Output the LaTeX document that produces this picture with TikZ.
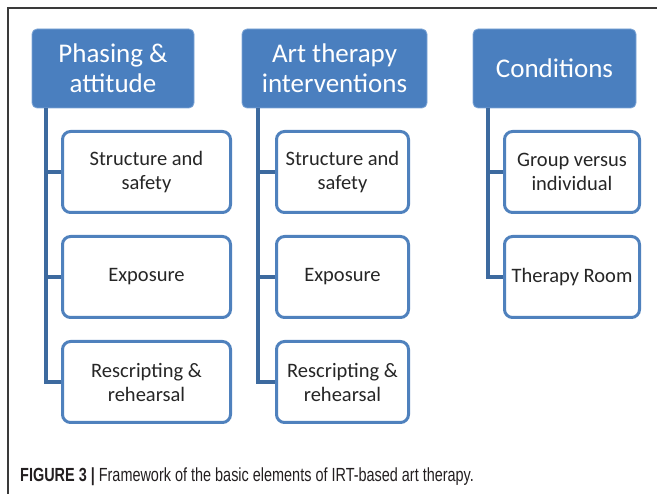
\documentclass[tikz,border=0pt]{standalone}
\usepackage{fontspec}
\setmainfont{Carlito}
\newfontfamily\capfont[FakeStretch=0.76]{Liberation Sans}
\definecolor{hdrblue}{HTML}{4A7FBF}
\definecolor{hdredge}{HTML}{7FA6D6}
\definecolor{boxblue}{HTML}{4F81BD}
\definecolor{linkblue}{HTML}{3D6A9F}
\definecolor{txtgray}{HTML}{262626}
\definecolor{capgray}{HTML}{231F20}
\definecolor{framegray}{HTML}{3A3A3A}
\tikzset{
  hdr/.style={fill=hdrblue, draw=hdredge, line width=0.8pt, rounded corners=5pt,
    text=white, align=center, inner sep=0pt,
    font=\fontsize{27}{30}\selectfont, minimum height=79pt},
  child/.style={fill=white, draw=boxblue, line width=3pt, rounded corners=8pt,
    text=txtgray, align=center, inner sep=0pt,
    font=\fontsize{20.5}{24}\selectfont, minimum height=81pt},
  link/.style={draw=linkblue, line width=4pt},
  framel/.style={draw=framegray, line width=1.5pt}
}
\begin{document}
\begin{tikzpicture}[x=1pt,y=-1pt]
\useasboundingbox (0,0) rectangle (657,494);
\draw[framel] (8,494) -- (8,8) -- (657,8);

% headers
\node[hdr, minimum width=162pt] (h1) at (113,68.5) {Phasing \&\\attitude};
\node[hdr, minimum width=185pt] (h2) at (334.5,68.5) {Art therapy\\interventions};
\node[hdr, minimum width=163pt] (h3) at (554.5,68.5) {Conditions};

% spine coordinates
\coordinate (s1) at (46,108.5);
\coordinate (s2) at (258,108.5);
\coordinate (s3) at (488,108.5);

% column 1
\node[child, minimum width=168pt] (a1) at (146.5,172) {Structure and\\safety};
\node[child, minimum width=168pt] (a2) at (146.5,277) {Exposure};
\node[child, minimum width=168pt] (a3) at (146.5,382) {Rescripting \&\\rehearsal};
% column 2
\node[child, minimum width=132pt] (b1) at (342.5,172) {Structure and\\safety};
\node[child, minimum width=132pt] (b2) at (342.5,277) {Exposure};
\node[child, minimum width=132pt] (b3) at (342.5,382) {Rescripting \&\\rehearsal};
% column 3
\node[child, minimum width=135pt] (c1) at (572,172) {Group versus\\individual};
\node[child, minimum width=135pt] (c2) at (572,277) {Therapy Room};

% connectors
\draw[link] (s1) -- (s1 |- a3.west) -- (a3.west);
\draw[link] (s1 |- a1.west) -- (a1.west);
\draw[link] (s1 |- a2.west) -- (a2.west);
\draw[link] (s2) -- (s2 |- b3.west) -- (b3.west);
\draw[link] (s2 |- b1.west) -- (b1.west);
\draw[link] (s2 |- b2.west) -- (b2.west);
\draw[link] (s3) -- (s3 |- c2.west) -- (c2.west);
\draw[link] (s3 |- c1.west) -- (c1.west);

% caption
\node[anchor=base west, inner sep=0pt, text=capgray,
  font=\capfont\fontsize{19}{23}\selectfont] (cap) at (20,482)
  {\textbf{FIGURE 3 |} Framework of the basic elements of IRT-based art therapy.};
\end{tikzpicture}
\end{document}
